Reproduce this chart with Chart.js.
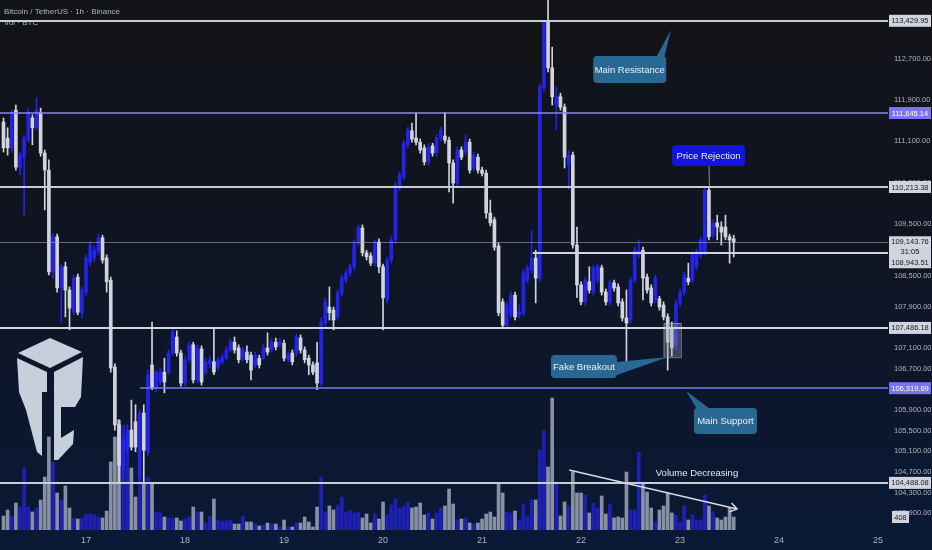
<!DOCTYPE html>
<html>
<head>
<meta charset="utf-8">
<title>Bitcoin / TetherUS 1h</title>
<script src="https://cdn.jsdelivr.net/npm/chart.js@4.4.1/dist/chart.umd.min.js"></script>
<style>
  html, body { margin: 0; padding: 0; background: #0f1422; }
  canvas { display: block; }
</style>
</head>
<body>
<canvas id="chart" width="932" height="550"></canvas>
<script>
// 1h candles, x = hours counted from the 17th 00:00
const firstHour = -20;

const opens = [
  111470,111160,110970,111700,110580,110790,111120,111550,111360,111650,110870,110540,108570,109250,108260,108670,108220,107790,108470,107790,
  108180,108760,108840,108960,109230,108840,108410,106730,105610,104740,105120,105510,105670,104600,105840,105090,106770,106320,106440,106630,
  106630,107000,107310,107000,106420,106870,107160,106480,107080,106630,106790,106830,106730,106830,106900,107060,107210,107100,106900,107020,
  106960,106770,106900,106900,107100,107060,107210,107160,107190,106870,107000,107000,107290,107060,106900,106770,106810,106420,107580,107890,
  107830,107700,108160,108410,108550,108670,109130,109420,108940,108880,108740,109150,108670,108030,108800,109190,110190,110410,111030,111300,
  111160,111080,110970,110700,111010,110870,111160,111200,111120,110680,110290,110930,110890,111080,110580,110790,110540,110480,109710,109580,
  109070,107990,107540,107740,108120,107740,107780,108410,108610,108840,108450,112130,113400,112520,111800,111960,111760,110640,110830,109090,
  108320,107990,108380,108180,108410,108650,108180,107990,108360,108280,107990,107680,107640,108410,108900,108990,108470,108260,108030,108050,
  107930,107700,107500,107160,107970,108180,108450,108410,108670,108900,108960,110150,109280,109520,109440,109440,109250,109210
];
const highs = [
  111550,111360,111700,111800,110890,111220,111740,111610,111940,111740,110930,110740,109320,109300,108720,108760,108280,108510,108530,108280,
  108900,109150,109070,109300,109280,108900,108470,106790,105710,105410,105610,106090,106000,105900,106000,106670,107600,106670,106710,106900,
  107060,107490,107430,107060,106940,107210,107210,107160,107140,106900,106940,107490,106920,106980,107120,107270,107310,107160,107120,107140,
  107020,107020,106960,107160,107390,107270,107290,107290,107250,107020,107060,107370,107350,107120,106960,106830,107210,107680,108070,108280,
  107890,108220,108510,108610,108720,109190,109480,109480,108990,108940,109190,109210,108720,108860,109250,110310,110500,111120,111370,111450,
  111650,111140,111030,111050,111060,111220,111370,111660,111180,110740,110990,110990,111220,111140,110890,110850,110600,110540,109960,109630,
  109130,108050,107990,108180,108180,107930,108610,108700,109380,108990,112210,113430,113830,112920,112150,112030,111820,110930,110890,109440,
  108380,108470,108670,108700,108720,108700,108240,108410,108410,108340,108050,108220,108470,109050,109190,109050,108530,108320,108510,108100,
  107990,107760,107600,108030,108240,108570,108740,108960,109010,109250,110213,110213,109580,109670,109540,109670,109300,109280
];
const lows = [
  110890,110830,110890,110540,110450,109670,111080,111030,111320,110810,109770,108510,108450,108180,107600,107700,107450,107740,107740,107680,
  108120,108690,108760,108900,108740,108180,106630,105510,104488,104510,105030,105120,105090,104540,104500,105010,106290,106250,106380,106230,
  106580,106960,106940,106360,106360,106830,106420,106420,106380,106580,106710,106580,106670,106790,106870,107020,107000,106810,106850,106810,
  106480,106710,106710,106870,106960,107020,107060,107100,106850,106830,106770,106940,107000,106810,106580,106580,106290,106360,107520,107640,
  107450,107640,108100,108360,108490,108610,109070,108880,108800,108690,108690,108550,107450,107970,108740,109130,110140,110350,110970,111080,
  111030,110870,110640,110640,110810,110810,111100,111060,110120,109900,110230,110740,110830,110480,110520,110480,110430,109610,109460,108990,
  107720,107490,107490,107680,107640,107680,107720,108360,108550,107970,108390,112070,112440,111800,111320,111700,110580,110160,109030,108070,
  107930,107930,108160,108120,108360,108120,107930,107930,108200,107910,107620,106730,107580,108360,108840,108030,108160,107910,107970,107830,
  107640,106670,106940,107060,107910,108120,108320,108360,108610,108840,108900,109190,109230,109190,109090,109190,108740,108860
];
const closes = [
  110970,110970,111650,110600,110830,111160,111650,111360,111700,110870,110540,108570,109250,108260,108670,108220,107870,108450,107790,108220,
  108840,109090,108990,109230,108800,108380,106710,105610,104830,105320,105510,105180,105180,105840,105120,106580,106320,106630,106630,106440,
  107000,107410,107000,106420,106870,107160,106480,107100,106440,106830,106870,106630,106870,106920,107060,107210,107060,106870,107060,106870,
  106670,106960,106770,107100,107020,107210,107120,107210,106900,106960,106830,107310,107060,106870,106770,106630,106420,107600,107990,107780,
  107640,108160,108450,108550,108670,109130,109420,108940,108860,108740,109150,108670,108070,108800,109190,110250,110450,111060,111320,111140,
  111080,110930,110700,110990,110870,111160,111320,111120,110680,110290,110930,110790,111080,110540,110830,110540,110480,109710,109520,109050,
  107780,107540,107930,108120,107700,107790,108550,108650,108840,108450,112150,113400,112520,111960,111960,111760,110790,110830,109090,108320,
  107990,108410,108220,108650,108670,108180,107990,108360,108260,107970,107680,107580,108410,108990,108990,108450,108220,107970,108450,107890,
  107700,107210,107100,107970,108180,108510,108380,108900,108960,109190,110150,109250,109520,109440,109340,109250,109190,109143.76
];
const volumes = [
  440,628,440,848,722,1947,722,565,691,942,1664,2920,2135,1162,942,1382,691,377,345,377,
  502,502,471,408,377,597,2135,2920,3454,3297,2732,1947,1036,1664,1444,1664,1444,565,534,408,
  377,377,377,283,345,408,722,565,565,220,440,973,314,283,283,314,188,188,440,251,
  251,188,126,157,220,188,188,94,314,94,94,220,220,408,251,94,722,1664,565,754,
  628,785,1036,565,628,534,565,377,502,220,502,345,879,471,785,973,691,754,879,691,
  722,848,471,534,345,534,691,754,1287,816,314,345,377,220,188,220,345,502,565,408,
  1444,1162,565,534,597,314,816,440,942,942,2512,3109,1978,4145,1476,440,879,754,1821,1162,
  1162,1099,534,848,691,1068,502,816,377,408,377,1821,628,628,2449,1476,1193,691,251,628,
  754,1162,534,471,251,754,314,471,314,314,1099,754,565,377,314,408,691,408
];

const dayLabels = ['17', '18', '19', '20', '21', '22', '23', '24', '25'];
const dayHours = [0, 24, 48, 72, 96, 120, 144, 168, 192];
const priceTicks = [112700, 111900, 111100, 110300, 109500, 108500, 107900, 107100, 106700, 105900, 105500, 105100, 104700, 104300, 103900];
const levelPrices = [113429.95, 111645.14, 110213.38, 108943.51, 107486.18, 106319.69, 104488.08];
const countdown = '31:05';

const hours = opens.map((_, i) => firstHour + i);
const upColor = '#2323ea';
const downColor = '#d1d4dc';
const candleColors = opens.map((o, i) => closes[i] >= o ? upColor : downColor);
const volumeColors = opens.map((o, i) => closes[i] >= o ? 'rgba(34,34,205,0.85)' : 'rgba(150,157,175,0.9)');

const fmt = v => v.toLocaleString('en-US', { minimumFractionDigits: 2, maximumFractionDigits: 2 });
const labelFont = "'Liberation Sans Narrow', 'Liberation Sans', sans-serif";

// Background gradient, dark grey at the top to navy at the bottom
const background = {
  id: 'background',
  beforeDraw(chart) {
    const { ctx, width, height } = chart;
    const g = ctx.createLinearGradient(0, 0, 0, height);
    g.addColorStop(0, '#131417');
    g.addColorStop(0.35, '#10141f');
    g.addColorStop(1, '#0a1936');
    ctx.save();
    ctx.fillStyle = g;
    ctx.fillRect(0, 0, width, height);
    ctx.restore();
  },
  beforeDatasetsDraw(chart) {
    // author watermark, bottom left
    const ctx = chart.ctx;
    const parts = [
      [[18, 353], [50, 338], [82, 352], [50, 368]],
      [[17, 358], [47, 372], [47, 392], [42, 392], [42, 456], [37, 452], [26, 410], [19, 392]],
      [[54, 372], [83, 357], [81, 397], [75, 407], [61, 407], [61, 438], [74, 430], [73, 444], [58, 460], [54, 460]]
    ];
    ctx.save();
    ctx.fillStyle = '#c6d0dc';
    parts.forEach(pts => {
      ctx.beginPath();
      pts.forEach((p, i) => i ? ctx.lineTo(p[0], p[1]) : ctx.moveTo(p[0], p[1]));
      ctx.closePath();
      ctx.fill();
    });
    ctx.restore();
  }
};

function roundBox(ctx, x, y, w, h, r) {
  ctx.beginPath();
  ctx.moveTo(x + r, y);
  ctx.lineTo(x + w - r, y);
  ctx.quadraticCurveTo(x + w, y, x + w, y + r);
  ctx.lineTo(x + w, y + h - r);
  ctx.quadraticCurveTo(x + w, y + h, x + w - r, y + h);
  ctx.lineTo(x + r, y + h);
  ctx.quadraticCurveTo(x, y + h, x, y + h - r);
  ctx.lineTo(x, y + r);
  ctx.quadraticCurveTo(x, y, x + r, y);
  ctx.closePath();
}

// Drawings: horizontal levels, callouts, volume trend arrow
const drawings = {
  id: 'drawings',
  afterDatasetsDraw(chart) {
    const { ctx, chartArea: a, scales: { x, y, yv } } = chart;
    ctx.save();

    // header text
    ctx.font = '8px ' + labelFont;
    ctx.fillStyle = '#aeb2bd';
    ctx.textBaseline = 'middle';
    ctx.fillText('Bitcoin / TetherUS · 1h · Binance', 4, 12);
    ctx.fillText('Vol · BTC', 4, 23);

    // fake breakout zone
    const fx0 = x.getPixelForValue(140), fx1 = x.getPixelForValue(144.2);
    const fy0 = y.getPixelForValue(107580), fy1 = y.getPixelForValue(106920);
    ctx.fillStyle = 'rgba(150,156,172,0.35)';
    ctx.fillRect(fx0, fy0, fx1 - fx0, fy1 - fy0);
    ctx.strokeStyle = 'rgba(190,195,208,0.55)';
    ctx.lineWidth = 1;
    ctx.strokeRect(fx0 + 0.5, fy0 + 0.5, fx1 - fx0, fy1 - fy0);

    // last price line
    const ly = Math.round(y.getPixelForValue(closes[closes.length - 1])) + 0.5;
    ctx.strokeStyle = 'rgba(170,175,188,0.55)';
    ctx.lineWidth = 1;
    ctx.beginPath(); ctx.moveTo(a.left, ly); ctx.lineTo(a.right, ly); ctx.stroke();

    const levelStyle = [
      { color: '#c9ccd4', width: 2 },
      { color: '#8a86f2', width: 1.5 },
      { color: '#c9ccd4', width: 2 },
      { color: '#d1d4dc', width: 2, from: 108.3 },
      { color: '#d1d4dc', width: 2 },
      { color: '#7f7af0', width: 1.5, from: 13.1 },
      { color: '#c9ccd4', width: 2 }
    ];
    levelPrices.forEach((p, i) => {
      const s = levelStyle[i];
      const py = Math.round(y.getPixelForValue(p));
      const x0 = s.from == null ? a.left : x.getPixelForValue(s.from);
      ctx.strokeStyle = s.color;
      ctx.lineWidth = s.width;
      ctx.beginPath(); ctx.moveTo(x0, py); ctx.lineTo(a.right, py); ctx.stroke();
    });

    // volume decreasing trend
    const ax0 = x.getPixelForValue(117.1), ay0 = yv.getPixelForValue(1884);
    const ax1 = x.getPixelForValue(157.8), ay1 = yv.getPixelForValue(659);
    ctx.strokeStyle = '#d8dbe2';
    ctx.lineWidth = 1.5;
    ctx.beginPath(); ctx.moveTo(ax0, ay0); ctx.lineTo(ax1, ay1); ctx.stroke();
    const ang = Math.atan2(ay1 - ay0, ax1 - ax0);
    ctx.beginPath();
    ctx.moveTo(ax1 - 8 * Math.cos(ang - 0.6), ay1 - 8 * Math.sin(ang - 0.6));
    ctx.lineTo(ax1, ay1);
    ctx.lineTo(ax1 - 8 * Math.cos(ang + 0.6), ay1 - 8 * Math.sin(ang + 0.6));
    ctx.stroke();
    ctx.font = '9.5px ' + labelFont;
    ctx.fillStyle = '#e6e9ef';
    ctx.textAlign = 'center';
    ctx.fillText('Volume Decreasing', x.getPixelForValue(148.1), yv.getPixelForValue(1790));

    // callouts
    const callouts = [
      { text: 'Main Resistance', h: 131.8, p: 112487, w: 73, ht: 27, bg: '#2a6894',
        tail: [[26.5, -12.5], [34.5, -12.5]], tip: [141.8, 113252] },
      { text: 'Price Rejection', h: 150.9, p: 110823, w: 73, ht: 21, bg: '#1414e0',
        line: true, tip: [151, 110213] },
      { text: 'Fake Breakout', h: 120.7, p: 106740, w: 66, ht: 23, bg: '#2a6894',
        tail: [[33, -4.5], [33, 8.5]], tip: [141.1, 106924] },
      { text: 'Main Support', h: 155, p: 105686, w: 63, ht: 26, bg: '#2a6894',
        tail: [[-28.5, -12], [-15.5, -12]], tip: [145.5, 106266] }
    ];
    callouts.forEach(c => {
      const cx = x.getPixelForValue(c.h), cy = y.getPixelForValue(c.p);
      const tx = x.getPixelForValue(c.tip[0]), ty = y.getPixelForValue(c.tip[1]);
      if (c.line) {
        ctx.strokeStyle = 'rgba(170,176,195,0.8)';
        ctx.lineWidth = 1;
        ctx.beginPath(); ctx.moveTo(cx + 0.5, cy + c.ht / 2); ctx.lineTo(tx + 0.5, ty); ctx.stroke();
      } else {
        ctx.fillStyle = c.bg;
        ctx.beginPath();
        ctx.moveTo(cx + c.tail[0][0], cy + c.tail[0][1]);
        ctx.lineTo(tx, ty);
        ctx.lineTo(cx + c.tail[1][0], cy + c.tail[1][1]);
        ctx.closePath();
        ctx.fill();
      }
      roundBox(ctx, cx - c.w / 2, cy - c.ht / 2, c.w, c.ht, 4);
      ctx.fillStyle = c.bg;
      ctx.fill();
      ctx.fillStyle = '#eef1f7';
      ctx.font = '9.5px ' + labelFont;
      ctx.textAlign = 'center';
      ctx.textBaseline = 'middle';
      ctx.fillText(c.text, cx, cy + 0.5);
    });
    ctx.restore();
  },
  afterDraw(chart) {
    // price tags on the axis
    const { ctx, chartArea: a, scales: { y, yv } } = chart;
    const left = a.right + 1, w = 42;
    ctx.save();
    ctx.font = '7.5px ' + labelFont;
    ctx.textAlign = 'center';
    ctx.textBaseline = 'middle';
    const tag = (cy, text, bg, fg) => {
      ctx.fillStyle = bg;
      ctx.fillRect(left, cy - 6, w, 12);
      ctx.fillStyle = fg;
      ctx.fillText(text, left + w / 2, cy + 0.5);
    };
    const light = '#d1d4dc', dark = '#131722', purple = '#7a73f2';
    [0, 2, 4, 6].forEach(i => tag(y.getPixelForValue(levelPrices[i]), fmt(levelPrices[i]), light, dark));
    [1, 5].forEach(i => tag(y.getPixelForValue(levelPrices[i]), fmt(levelPrices[i]), purple, '#ffffff'));

    // last price, countdown and the 108,943.51 level share one box
    const top = y.getPixelForValue(closes[closes.length - 1]) - 6;
    ctx.fillStyle = light;
    ctx.fillRect(left, top, w, 32);
    ctx.fillStyle = dark;
    ctx.fillText(fmt(closes[closes.length - 1]), left + w / 2, top + 6);
    ctx.fillText(countdown, left + w / 2, top + 16);
    ctx.fillText(fmt(levelPrices[3]), left + w / 2, top + 26.5);

    // last volume
    const vy = yv.getPixelForValue(volumes[volumes.length - 1]);
    ctx.fillStyle = light;
    ctx.fillRect(left + 3, vy - 6, 17, 12);
    ctx.fillStyle = dark;
    ctx.fillText(String(volumes[volumes.length - 1]), left + 11.5, vy + 0.5);
    ctx.restore();
  }
};

const ctx = document.getElementById('chart').getContext('2d');
new Chart(ctx, {
  type: 'bar',
  data: {
    datasets: [
      {
        label: 'body',
        data: hours.map((h, i) => ({ x: h, y: [opens[i], closes[i]] })),
        backgroundColor: candleColors,
        barThickness: 3,
        minBarLength: 1,
        grouped: false,
        yAxisID: 'y'
      },
      {
        label: 'wick',
        data: hours.map((h, i) => ({ x: h, y: [lows[i], highs[i]] })),
        backgroundColor: candleColors,
        barThickness: 1,
        grouped: false,
        yAxisID: 'y'
      },
      {
        label: 'Vol',
        data: hours.map((h, i) => ({ x: h, y: volumes[i] })),
        backgroundColor: volumeColors,
        barThickness: 3,
        grouped: false,
        yAxisID: 'yv'
      }
    ]
  },
  options: {
    responsive: false,
    animation: false,
    events: [],
    layout: { padding: 0 },
    plugins: { legend: { display: false }, tooltip: { enabled: false } },
    scales: {
      x: {
        type: 'linear',
        offset: false,
        min: -20.85,
        max: 194.4,
        grid: { display: false, drawTicks: false },
        border: { display: false },
        afterBuildTicks: s => { s.ticks = dayHours.map(v => ({ value: v })); },
        afterFit: s => { s.height = 20; s.paddingLeft = 0; s.paddingRight = 0; },
        ticks: {
          color: '#aeb2bd',
          font: { family: labelFont, size: 9 },
          padding: 5,
          maxRotation: 0,
          autoSkip: false,
          callback: v => dayLabels[dayHours.indexOf(v)]
        }
      },
      y: {
        position: 'right',
        min: 103576,
        max: 113832,
        grid: { display: false, drawTicks: false },
        border: { display: false },
        afterBuildTicks: s => { s.ticks = priceTicks.map(v => ({ value: v })); },
        afterFit: s => { s.width = 44; s.paddingTop = 0; s.paddingBottom = 0; },
        ticks: {
          color: '#aeb2bd',
          font: { family: labelFont, size: 7.5 },
          padding: 6,
          autoSkip: false,
          callback: v => fmt(v)
        }
      },
      yv: {
        display: false,
        min: 0,
        max: 16640
      }
    }
  },
  plugins: [background, drawings]
});
</script>
</body>
</html>
